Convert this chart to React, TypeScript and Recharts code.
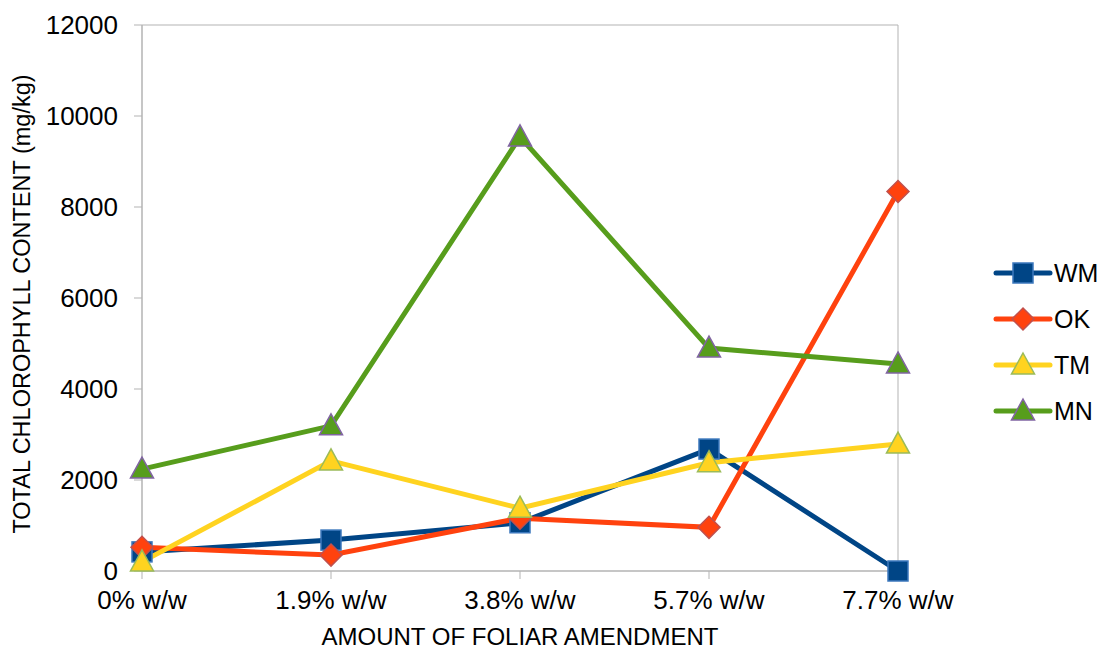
import React from 'react';
import {
  LineChart,
  Line,
  XAxis,
  YAxis,
  ReferenceArea,
} from 'recharts';

// foliar amendment levels and total chlorophyll (mg/kg) per soil
const amendments = ['0% w/w', '1.9% w/w', '3.8% w/w', '5.7% w/w', '7.7% w/w'];
const wm = [420, 680, 1060, 2680, 0];
const ok = [520, 350, 1160, 960, 8340];
const tm = [200, 2420, 1380, 2380, 2790];
const mn = [2240, 3190, 9540, 4900, 4550];
const yTicks = [0, 2000, 4000, 6000, 8000, 10000, 12000];

const FONT = '"Liberation Sans", Arial, sans-serif';
const AXIS_GREY = '#b3b3b3';

const SERIES = [
  { key: 'WM', color: '#004586', edge: '#3c78bd', shape: 'square' },
  { key: 'OK', color: '#ff420e', edge: '#c0504d', shape: 'diamond' },
  { key: 'TM', color: '#ffd320', edge: '#9bbb59', shape: 'triangle' },
  { key: 'MN', color: '#579d1c', edge: '#8064a2', shape: 'triangle' },
];

const data = amendments.map((a, i) => ({
  name: a,
  WM: wm[i],
  OK: ok[i],
  TM: tm[i],
  MN: mn[i],
}));

const Marker = ({ cx, cy, shape, fill, edge }: { cx: number; cy: number; shape: string; fill: string; edge: string }) => {
  if (cx == null || cy == null) return null;
  if (shape === 'square') {
    return <rect x={cx - 10} y={cy - 10} width={20} height={20} fill={fill} stroke={edge} strokeWidth={1.5} />;
  }
  if (shape === 'diamond') {
    const r = 11;
    return (
      <polygon
        points={`${cx},${cy - r} ${cx + r},${cy} ${cx},${cy + r} ${cx - r},${cy}`}
        fill={fill}
        stroke={edge}
        strokeWidth={1.5}
      />
    );
  }
  return (
    <polygon
      points={`${cx},${cy - 12} ${cx + 11.5},${cy + 9} ${cx - 11.5},${cy + 9}`}
      fill={fill}
      stroke={edge}
      strokeWidth={1.5}
    />
  );
};

const LegendBox = () => (
  <div style={{ position: 'absolute', left: 993, top: 250, fontFamily: FONT }}>
    {SERIES.map((s) => (
      <div key={s.key} style={{ display: 'flex', alignItems: 'center', height: 46 }}>
        <svg width={60} height={30}>
          <line x1={3} y1={15} x2={57} y2={15} stroke={s.color} strokeWidth={5} strokeLinecap="round" />
          <Marker cx={30} cy={15} shape={s.shape} fill={s.color} edge={s.edge} />
        </svg>
        <span style={{ fontSize: 25, color: '#000', marginLeft: 1 }}>{s.key}</span>
      </div>
    ))}
  </div>
);

const YTitle = (props: any) => {
  const { viewBox } = props;
  const cy = viewBox.y + viewBox.height / 2 + 6;
  const cx = 22;
  return (
    <text
      x={cx}
      y={cy}
      transform={`rotate(-90, ${cx}, ${cy})`}
      textAnchor="middle"
      dominantBaseline="central"
      fill="#000"
      fontSize={23.5}
      fontFamily={FONT}
    >
      TOTAL CHLOROPHYLL CONTENT (mg/kg)
    </text>
  );
};

const App: React.FC = () => {
  return (
    <div style={{ position: 'absolute', left: 0, top: 0, width: 1103, height: 649, background: '#fff' }}>
      <LineChart width={1103} height={649} data={data} margin={{ top: 25, right: 205, left: 0, bottom: 0 }}>
        <ReferenceArea
          x1={amendments[0]}
          x2={amendments[amendments.length - 1]}
          y1={0}
          y2={12000}
          fill="none"
          stroke={AXIS_GREY}
          strokeWidth={1}
        />
        <XAxis
          dataKey="name"
          height={78}
          tickLine={{ stroke: AXIS_GREY }}
          tickSize={8}
          axisLine={{ stroke: AXIS_GREY }}
          tick={{ fill: '#000', fontSize: 26, fontFamily: FONT }}
          tickMargin={12}
          label={{
            value: 'AMOUNT OF FOLIAR AMENDMENT',
            position: 'insideBottom',
            offset: 4,
            fill: '#000',
            fontSize: 24,
            fontFamily: FONT,
          }}
        />
        <YAxis
          width={142}
          domain={[0, 12000]}
          ticks={yTicks}
          interval={0}
          tickLine={{ stroke: AXIS_GREY }}
          tickSize={8}
          axisLine={{ stroke: AXIS_GREY }}
          tick={{ fill: '#000', fontSize: 26, fontFamily: FONT }}
          tickMargin={16}
          label={{ content: YTitle }}
        />
        {SERIES.map((s) => (
          <Line
            key={s.key}
            type="linear"
            dataKey={s.key}
            stroke={s.color}
            strokeWidth={5}
            dot={(p: any) => <Marker key={`${s.key}-${p.index}`} cx={p.cx} cy={p.cy} shape={s.shape} fill={s.color} edge={s.edge} />}
            activeDot={false}
            isAnimationActive={false}
          />
        ))}
      </LineChart>
      <LegendBox />
    </div>
  );
};

export default App;
